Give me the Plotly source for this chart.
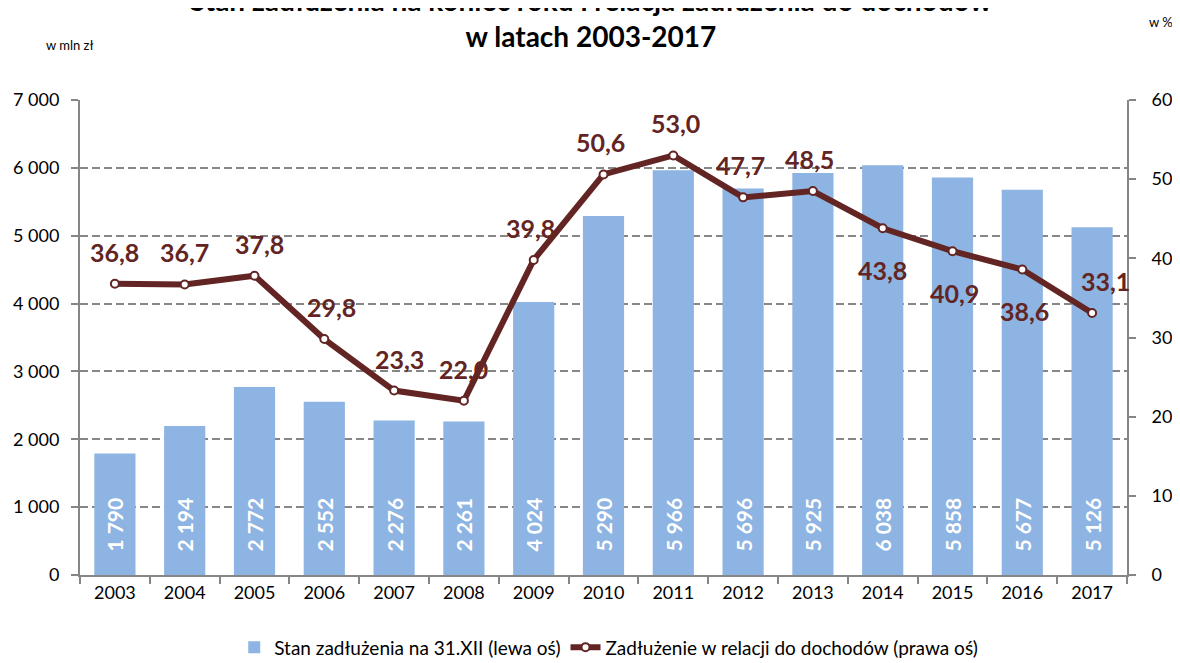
import plotly.graph_objects as go

years = [str(y) for y in range(2003, 2018)]
debt = [1790, 2194, 2772, 2552, 2276, 2261, 4024, 5290, 5966, 5696, 5925, 6038, 5858, 5677, 5126]
ratio = [36.8, 36.7, 37.8, 29.8, 23.3, 22.0, 39.8, 50.6, 53.0, 47.7, 48.5, 43.8, 40.9, 38.6, 33.1]
ratio_labels = ["36,8", "36,7", "37,8", "29,8", "23,3", "22,0", "39,8", "50,6", "53,0", "47,7", "48,5", "43,8", "40,9", "38,6", "33,1"]
label_below = [False]*11 + [True, True, True, False]
label_xshift = [0, 0, 5, 7, 5, 0, -3, -3, 2, -3, -3, 0, 2, 2, 13]

BAR = "#8DB4E2"
LINE = "#632523"
AXIS = "#868686"
FONT = "Lato"
PAD = "\u00a0" * 4

def fmt(v):
    return f"{v:,}".replace(",", " ")

fig = go.Figure()
fig.add_trace(go.Bar(
    x=years, y=debt, name="Stan zadłużenia na 31.XII (lewa oś)",
    marker=dict(color=BAR, line=dict(width=0)),
    text=[PAD + fmt(v) for v in debt], textposition="inside", insidetextanchor="start",
    textangle=-90, textfont=dict(color="white", size=21, family=FONT, weight="bold"),
    cliponaxis=False,
))
fig.add_trace(go.Scatter(
    x=years, y=ratio, yaxis="y2", name="Zadłużenie w relacji do dochodów (prawa oś)",
    mode="lines+markers",
    line=dict(color=LINE, width=6),
    marker=dict(symbol="circle", size=8, color="white", line=dict(color=LINE, width=2)),
    cliponaxis=False,
))

for i, (v, t, below, xs) in enumerate(zip(ratio, ratio_labels, label_below, label_xshift)):
    fig.add_annotation(
        x=i, y=v, yref="y2", xref="x", text=f"<b>{t}</b>", showarrow=False,
        yshift=(-42 if below else 32), xshift=xs,
        font=dict(color=LINE, size=25, family=FONT),
    )

fig.add_annotation(xref="paper", yref="paper", x=0.5, y=1.0, xshift=-13, yshift=82,
                   text="<b>Stan zadłużenia na koniec roku i relacja zadłużenia do dochodów<br>w latach 2003-2017</b>",
                   showarrow=False, font=dict(size=28, family=FONT, color="black"),
                   xanchor="center", yanchor="middle")
fig.add_annotation(xref="paper", yref="paper", x=0.0, y=1.0, xshift=-10, yshift=55,
                   text="w mln zł", showarrow=False, font=dict(size=13, family=FONT, color="black"),
                   xanchor="center", yanchor="middle")
fig.add_annotation(xref="paper", yref="paper", x=1.0, y=1.0, xshift=34, yshift=78,
                   text="w %", showarrow=False, font=dict(size=13, family=FONT, color="black"),
                   xanchor="center", yanchor="middle")

fig.update_layout(
    width=1172, height=655,
    margin=dict(l=72, r=53, t=92, b=88, autoexpand=False),
    paper_bgcolor="white", plot_bgcolor="white",
    separators=", ",
    bargap=0.41,
    font=dict(family=FONT, size=18, color="black"),
    showlegend=True,
    legend=dict(orientation="h", x=0.505, xanchor="center", yref="container", y=0.024, yanchor="middle",
                font=dict(size=19, family=FONT), traceorder="normal"),
    xaxis=dict(type="category", range=[-0.5, len(years) - 0.5], showline=True, linecolor=AXIS, linewidth=2,
               ticks="outside", tickson="boundaries", ticklen=7, tickcolor=AXIS, tickwidth=2,
               tickfont=dict(size=18), showgrid=False, tickangle=0, automargin=False),
    yaxis=dict(range=[0, 7000], dtick=1000, tickformat=",.0f", showline=True, linecolor=AXIS,
               linewidth=2, ticks="outside", ticklen=7, tickcolor=AXIS, tickwidth=2,
               showgrid=True, gridcolor=AXIS, griddash="8px,4px", gridwidth=1.5,
               zeroline=False, tickfont=dict(size=18), ticklabelstandoff=8, automargin=False),
    yaxis2=dict(range=[0, 60], dtick=10, overlaying="y", side="right", showline=True,
                linecolor=AXIS, linewidth=2, ticks="outside", ticklen=7, tickcolor=AXIS,
                tickwidth=2, showgrid=False, zeroline=False, tickfont=dict(size=18),
                ticklabelstandoff=12, automargin=False),
)

fig.write_html("out.html")
